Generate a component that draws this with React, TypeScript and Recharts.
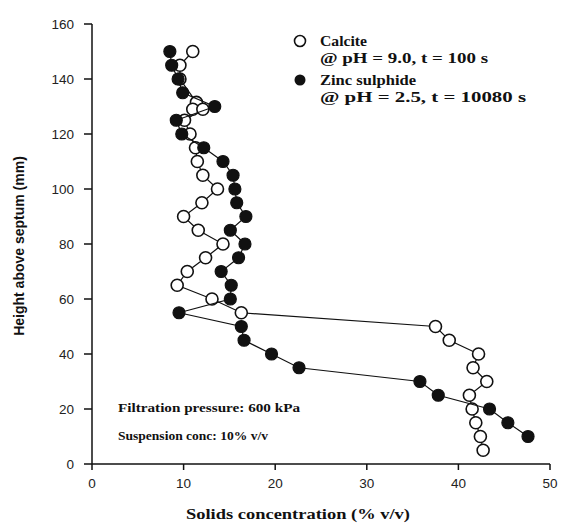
import * as React from "react";
import {
  ScatterChart,
  Scatter,
  XAxis,
  YAxis,
} from "recharts";

// heights above septum (mm) and solids concentration (% v/v)
const calciteHeight = [150, 145, 140, 131.5, 129, 129, 125, 120, 115, 110, 105, 100, 95, 90, 85, 80, 75, 70, 65, 60, 55, 50, 45, 40, 35, 30, 25, 20, 15, 10, 5];
const calciteConc = [11.0, 9.6, 9.6, 11.4, 11.0, 12.1, 10.1, 10.7, 11.3, 11.5, 12.1, 13.7, 12.0, 10.0, 11.6, 14.3, 12.4, 10.4, 9.3, 13.1, 16.3, 37.5, 39.0, 42.2, 41.6, 43.1, 41.2, 41.5, 41.9, 42.4, 42.7];

const zincHeight = [150, 145, 140, 135, 130, 125, 120, 115, 110, 105, 100, 95, 90, 85, 80, 75, 70, 65, 60, 55, 50, 45, 40, 35, 30, 25, 20, 15, 10];
const zincConc = [8.5, 8.7, 9.4, 9.9, 13.4, 9.2, 9.8, 12.2, 14.3, 15.4, 15.6, 15.8, 16.8, 15.1, 16.7, 16.0, 14.1, 15.2, 15.1, 9.5, 16.3, 16.6, 19.6, 22.6, 35.8, 37.8, 43.4, 45.4, 47.6];

const xTicks = [0, 10, 20, 30, 40, 50];
const yTicks = [0, 20, 40, 60, 80, 100, 120, 140, 160];

const calcite = calciteHeight.map((h, i) => ({ x: calciteConc[i], y: h }));
const zinc = zincHeight.map((h, i) => ({ x: zincConc[i], y: h }));

const ink = "#111";
const serif = "'Liberation Serif', 'Times New Roman', serif";
const sans = "'Liberation Sans', Arial, sans-serif";

const OpenDot = (props: any) => (
  <circle cx={props.cx} cy={props.cy} r={6} fill="#fff" stroke={ink} strokeWidth={1.6} />
);
const FilledDot = (props: any) => (
  <circle cx={props.cx} cy={props.cy} r={6} fill={ink} stroke={ink} strokeWidth={1.2} />
);

const tickStyle = { fill: "#222", fontSize: 13.5, fontFamily: sans };

export default function App() {
  return (
    <div style={{ position: "absolute", left: 0, top: 0, width: 563, height: 526, background: "#fff" }}>
      <ScatterChart
        width={563}
        height={526}
        margin={{ top: 24, right: 13, left: 32, bottom: 32 }}
      >
        <XAxis
          type="number"
          dataKey="x"
          domain={[0, 50]}
          ticks={xTicks}
          allowDataOverflow
          height={30}
          tickSize={6}
          tickMargin={8}
          tick={tickStyle}
          stroke={ink}
          strokeWidth={1.5}
        />
        <XAxis
          xAxisId="top"
          orientation="top"
          type="number"
          domain={[0, 50]}
          height={0}
          tick={false}
          tickLine={false}
          stroke={ink}
          strokeWidth={1.5}
        />
        <YAxis
          type="number"
          dataKey="y"
          domain={[0, 160]}
          ticks={yTicks}
          allowDataOverflow
          width={60}
          tickSize={8}
          tickMargin={10}
          tick={tickStyle}
          stroke={ink}
          strokeWidth={1.5}
        />
        <YAxis
          yAxisId="right"
          orientation="right"
          type="number"
          domain={[0, 160]}
          width={0}
          tick={false}
          tickLine={false}
          stroke={ink}
          strokeWidth={1.5}
        />
        <Scatter
          data={calcite}
          line={{ stroke: ink, strokeWidth: 1.2 }}
          shape={OpenDot}
          isAnimationActive={false}
        />
        <Scatter
          data={zinc}
          line={{ stroke: ink, strokeWidth: 1.2 }}
          shape={FilledDot}
          isAnimationActive={false}
        />
      </ScatterChart>

      {/* legend, notes and axis titles */}
      <svg style={{ position: "absolute", left: 0, top: 0 }} width={563} height={526} pointerEvents="none">
        <circle cx={300} cy={41} r={5.5} fill="#fff" stroke={ink} strokeWidth={1.6} />
        <circle cx={300} cy={80} r={5.5} fill={ink} />
        <g fontFamily={serif} fontWeight="bold" fontSize={15} fill={ink} lengthAdjust="spacingAndGlyphs">
          <text x={320} y={46} textLength={47} lengthAdjust="spacingAndGlyphs">Calcite</text>
          <text x={320} y={63} textLength={168} lengthAdjust="spacingAndGlyphs">@ pH = 9.0, t = 100 s</text>
          <text x={320} y={85} textLength={96} lengthAdjust="spacingAndGlyphs">Zinc sulphide</text>
          <text x={320} y={102} textLength={206} lengthAdjust="spacingAndGlyphs">@ pH = 2.5, t  = 10080 s</text>
        </g>
        <g fontFamily={serif} fontWeight="bold" fontSize={13.5} fill={ink}>
          <text x={118} y={412} textLength={182} lengthAdjust="spacingAndGlyphs">Filtration pressure: 600 kPa</text>
          <text x={118} y={440} textLength={150} lengthAdjust="spacingAndGlyphs">Suspension conc: 10% v/v</text>
        </g>
        <text x={186} y={519} textLength={224} lengthAdjust="spacingAndGlyphs" fontFamily={serif} fontWeight="bold" fontSize={15} fill={ink}>
          Solids concentration (% v/v)
        </text>
        <text
          transform="translate(24,246) rotate(-90)"
          textAnchor="middle"
          fontFamily={sans}
          fontWeight="bold"
          fontSize={14}
          fill={ink}
        >
          Height above septum (mm)
        </text>
      </svg>
    </div>
  );
}
